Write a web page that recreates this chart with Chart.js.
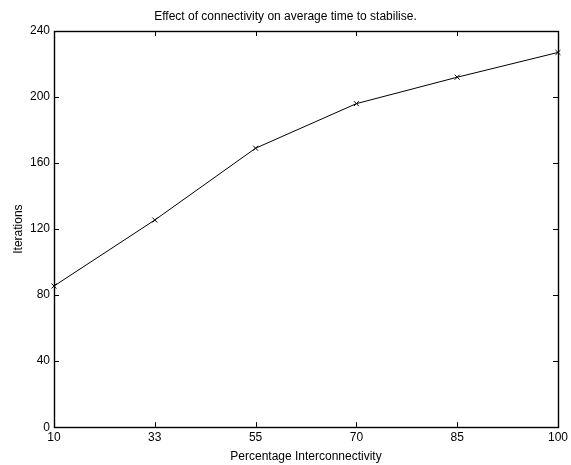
<!DOCTYPE html>
<html>
<head>
<meta charset="utf-8">
<script src="https://cdn.jsdelivr.net/npm/chart.js@4/dist/chart.umd.min.js"></script>
<style>
  html, body { margin: 0; padding: 0; background: #fff; }
  #wrap { width: 571px; height: 465px; }
</style>
</head>
<body>
<div id="wrap"><canvas id="connChart"></canvas></div>
<script>
// data
var connectivity = ["10", "33", "55", "70", "85", "100"];
var iterations = [85.5, 125.5, 169, 196, 212, 227];
var yTicks = [0, 40, 80, 120, 160, 200, 240];

Chart.defaults.font.family = "'Liberation Sans', Arial, Helvetica, sans-serif";
Chart.defaults.font.size = 12;
Chart.defaults.color = '#000';

// matlab style box with inward ticks on all sides
var boxTicks = {
  id: 'boxTicks',
  afterDatasetsDraw: function(chart) {
    var c = chart.ctx;
    var a = chart.chartArea;
    var xs = chart.scales.x;
    var ys = chart.scales.y;
    var len = 5;
    c.save();
    c.strokeStyle = '#000';
    c.lineWidth = 1;
    c.beginPath();
    for (var i = 0; i < xs.ticks.length; i++) {
      var px = Math.round(xs.getPixelForTick(i)) + 0.5;
      c.moveTo(px, a.bottom); c.lineTo(px, a.bottom - len);
      c.moveTo(px, a.top); c.lineTo(px, a.top + len);
    }
    for (var j = 0; j < ys.ticks.length; j++) {
      var py = Math.round(ys.getPixelForTick(j)) + 0.5;
      c.moveTo(a.left, py); c.lineTo(a.left + len, py);
      c.moveTo(a.right, py); c.lineTo(a.right - len, py);
    }
    c.stroke();
    c.lineWidth = 1.4;
    c.strokeRect(Math.round(a.left) + 0.5, Math.round(a.top) + 0.5,
                 Math.round(a.right - a.left), Math.round(a.bottom - a.top));
    c.restore();
  }
};

var ctx = document.getElementById("connChart");
var connChart = new Chart(ctx, {
  type: 'line',
  data: {
    labels: connectivity,
    datasets: [{
      label: 'Iterations',
      data: iterations,
      borderColor: '#000',
      borderWidth: 1,
      backgroundColor: '#000',
      pointStyle: 'crossRot',
      pointRadius: 3.5,
      pointBorderWidth: 1,
      pointBorderColor: '#000',
      tension: 0,
      fill: false,
      clip: false
    }]
  },
  options: {
    responsive: true,
    maintainAspectRatio: false,
    animation: false,
    layout: {
      padding: { left: 11, right: 11, top: 0, bottom: 0 }
    },
    plugins: {
      legend: { display: false },
      tooltip: { enabled: false },
      title: {
        display: true,
        text: 'Effect of connectivity on average time to stabilise.',
        font: { size: 12, weight: 'normal' },
        color: '#000',
        padding: { top: 9, bottom: 7.6 }
      }
    },
    scales: {
      x: {
        type: 'category',
        offset: false,
        grid: { display: false, drawTicks: false },
        border: { display: false },
        ticks: { padding: 3, maxRotation: 0, autoSkip: false },
        title: {
          display: true,
          text: 'Percentage Interconnectivity',
          padding: { top: 2, bottom: 1 }
        }
      },
      y: {
        min: 0,
        max: 240,
        afterBuildTicks: function(scale) {
          scale.ticks = yTicks.map(function(v) { return { value: v }; });
        },
        afterFit: function(scale) { scale.width = 43; },
        grid: { display: false, drawTicks: false },
        border: { display: false },
        ticks: { padding: 4 },
        title: {
          display: true,
          text: 'Iterations',
          padding: { top: 0, bottom: 0 }
        }
      }
    }
  },
  plugins: [boxTicks]
});
</script>
</body>
</html>
